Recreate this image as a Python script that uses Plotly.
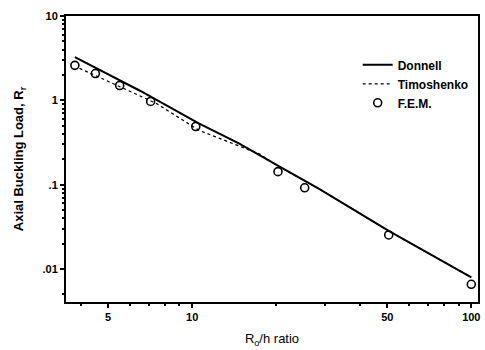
import plotly.graph_objects as go

# Data
donnell_x = [3.8, 6.5, 10.6, 14.7, 20.5, 28.4, 50.6, 100]
donnell_y = [3.26, 1.3, 0.53, 0.31, 0.165, 0.09, 0.0283, 0.008]
timo_x = [3.95, 7.44, 10.6, 14.7, 17.4, 20.5, 28.4, 50.6, 100]
timo_y = [2.4, 0.92, 0.44, 0.29, 0.232, 0.163, 0.09, 0.0283, 0.008]
fem_x = [3.8, 4.5, 5.5, 7.1, 10.3, 20.3, 25.3, 50.6, 100]
fem_y = [2.6, 2.08, 1.5, 0.97, 0.49, 0.143, 0.092, 0.0254, 0.0066]

x_tickvals = [5, 10, 50, 100]
x_ticktext = ["5", "10", "50", "100"]
y_tickvals = [0.01, 0.1, 1, 10]
y_ticktext = [".01", ".1", "1", "10"]

font = "Liberation Sans, Arial, sans-serif"

fig = go.Figure()
fig.add_trace(go.Scatter(x=donnell_x, y=donnell_y, mode="lines", name="Donnell",
                         line=dict(color="black", width=2)))
fig.add_trace(go.Scatter(x=timo_x, y=timo_y, mode="lines", name="Timoshenko",
                         line=dict(color="black", width=1.3, dash="dot")))
fig.add_trace(go.Scatter(x=fem_x, y=fem_y, mode="markers", name="F.E.M.",
                         marker=dict(symbol="circle-open", size=8, color="black",
                                     line=dict(width=1.6, color="black"))))

fig.update_layout(
    width=485, height=350,
    margin=dict(l=66, r=5, t=16, b=48),
    paper_bgcolor="white", plot_bgcolor="white",
    font=dict(family=font, color="black", size=11),
    legend=dict(x=0.708, y=0.88, xanchor="left", yanchor="top",
                bgcolor="rgba(0,0,0,0)", font=dict(size=12, family=font, weight="bold"),
                itemwidth=30, tracegroupgap=0),
    showlegend=True,
)
fig.update_xaxes(
    type="log", range=[0.548, 2.024],
    tickvals=x_tickvals, ticktext=x_ticktext,
    ticks="outside", ticklen=4, tickwidth=1.5, tickcolor="black",
    tickfont=dict(size=11, family=font, weight="bold"),
    showline=True, linewidth=2, linecolor="black", mirror=True,
    showgrid=False, zeroline=False,
    minor=dict(tickvals=[4, 6, 7, 8, 9, 20, 30, 40, 60, 70, 80, 90],
               ticks="outside", ticklen=2, tickcolor="black", showgrid=False),
    title=dict(text="R<sub>o</sub>/h ratio", font=dict(size=13, family=font), standoff=12),
)
fig.update_yaxes(
    type="log", range=[-2.39, 1.0],
    tickvals=y_tickvals, ticktext=y_ticktext,
    ticks="outside", ticklen=4, tickwidth=1.5, tickcolor="black",
    tickfont=dict(size=11, family=font, weight="bold"),
    showline=True, linewidth=2, linecolor="black", mirror=True,
    showgrid=False, zeroline=False,
    minor=dict(tickvals=[0.005, 0.02, 0.03, 0.04, 0.05, 0.06, 0.07, 0.08, 0.09,
                         0.2, 0.3, 0.4, 0.5, 0.6, 0.7, 0.8, 0.9,
                         2, 3, 4, 5, 6, 7, 8, 9],
               ticks="outside", ticklen=2, tickcolor="black", showgrid=False),
    title=dict(text="Axial Buckling Load, R<sub>r</sub>",
               font=dict(size=13, family=font, weight="bold"), standoff=16),
)

fig.write_html("out.html", config={"displayModeBar": False},
               post_script="document.body.style.margin='0';document.body.style.overflow='hidden';")
